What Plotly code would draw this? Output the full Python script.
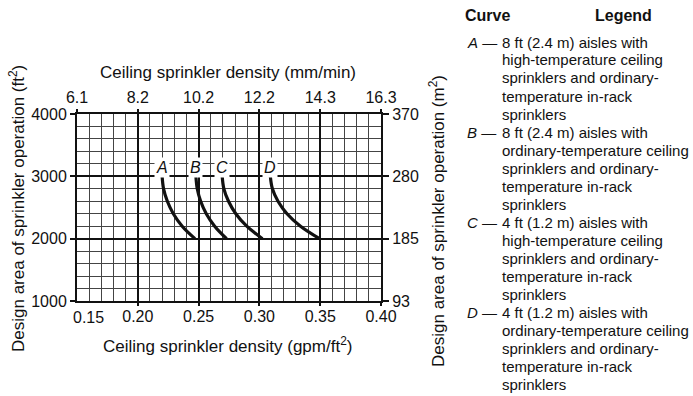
import plotly.graph_objects as go

# Ceiling sprinkler density (gpm/ft2) vs design area (ft2) for curves A-D
area_ft2 = [3000, 2800, 2600, 2400, 2200, 2000]
curve_A = [0.220, 0.2212, 0.2243, 0.2292, 0.2365, 0.247]
curve_B = [0.2478, 0.2489, 0.2517, 0.2563, 0.2632, 0.273]
curve_C = [0.2694, 0.2708, 0.2746, 0.2806, 0.2896, 0.3025]
curve_D = [0.309, 0.3107, 0.3153, 0.3227, 0.3338, 0.3495]
curve_names = ["A", "B", "C", "D"]
label_area = 3140

# Axis ticks
gpm_ticks = [0.15, 0.20, 0.25, 0.30, 0.35, 0.40]
mm_labels = ["6.1", "8.2", "10.2", "12.2", "14.3", "16.3"]
ft2_ticks = [1000, 2000, 3000, 4000]
m2_labels = ["93", "185", "280", "370"]

legend_items = [
    ["8 ft (2.4 m) aisles with", "high-temperature ceiling",
     "sprinklers and ordinary-", "temperature in-rack", "sprinklers"],
    ["8 ft (2.4 m) aisles with", "ordinary-temperature ceiling",
     "sprinklers and ordinary-", "temperature in-rack", "sprinklers"],
    ["4 ft (1.2 m) aisles with", "high-temperature ceiling",
     "sprinklers and ordinary-", "temperature in-rack", "sprinklers"],
    ["4 ft (1.2 m) aisles with", "ordinary-temperature ceiling",
     "sprinklers and ordinary-", "temperature in-rack", "sprinklers"],
]

FONT = "Liberation Sans, Arial, Helvetica, sans-serif"
W, H = 693, 396
PL, PR, PT, PB = 77, 381, 114, 301


def px(x):
    return (x - PL) / (PR - PL)


def py(y):
    return (PB - y) / (PB - PT)


fig = go.Figure()
for name, xs in zip(curve_names, [curve_A, curve_B, curve_C, curve_D]):
    fig.add_trace(go.Scatter(
        x=xs, y=area_ft2, mode="lines", name=name,
        line=dict(color="#111", width=3.2, shape="spline", smoothing=1),
        hoverinfo="skip", showlegend=False))
    fig.add_annotation(
        x=xs[0], y=label_area, xref="x", yref="y", text=f"<i>{name}</i>",
        showarrow=False, bgcolor="white", borderpad=1,
        font=dict(family=FONT, size=16, color="#111"))

# carrier trace for the secondary (mm/min, m2) axes
fig.add_trace(go.Scatter(x=[0.15], y=[1000], xaxis="x2", yaxis="y2",
                         mode="markers", marker=dict(opacity=0),
                         hoverinfo="skip", showlegend=False))

tick_font = dict(family=FONT, size=16, color="#111")
# the first density label is drawn separately, nudged clear of "1000"
bottom_ticks = gpm_ticks[1:]
fig.update_layout(
    width=W, height=H,
    margin=dict(l=PL, r=W - PR, t=PT, b=H - PB),
    paper_bgcolor="white", plot_bgcolor="white",
    font=dict(family=FONT, color="#111"),
    xaxis=dict(
        range=[0.15, 0.40], tickvals=bottom_ticks,
        ticktext=[f"{v:.2f}" for v in bottom_ticks],
        tickfont=tick_font, ticks="outside", ticklen=3, tickwidth=2,
        tickcolor="#111", showgrid=True, gridcolor="#111", gridwidth=2,
        showline=True, linecolor="#111", linewidth=2, mirror=False,
        zeroline=False, fixedrange=True, ticklabelstandoff=-3,
        minor=dict(dtick=0.01, showgrid=True, gridcolor="#444",
                   gridwidth=1, ticks="")),
    yaxis=dict(
        range=[1000, 4000], tickvals=ft2_ticks,
        tickfont=tick_font, ticks="outside", ticklen=5, tickwidth=2,
        tickcolor="#111", showgrid=True, gridcolor="#111", gridwidth=2,
        showline=True, linecolor="#111", linewidth=2,
        zeroline=False, fixedrange=True,
        minor=dict(dtick=200, showgrid=True, gridcolor="#444",
                   gridwidth=1, ticks="")),
    xaxis2=dict(
        overlaying="x", side="top", range=[0.15, 0.40],
        tickvals=gpm_ticks, ticktext=mm_labels, tickfont=tick_font,
        ticks="outside", ticklen=3, tickwidth=2, tickcolor="#111",
        showgrid=False, showline=True, linecolor="#111", linewidth=2,
        zeroline=False, fixedrange=True),
    yaxis2=dict(
        overlaying="y", side="right", range=[1000, 4000],
        tickvals=ft2_ticks, ticktext=m2_labels, tickfont=tick_font,
        ticks="outside", ticklen=6, tickwidth=2, tickcolor="#111",
        showgrid=False, showline=True, linecolor="#111", linewidth=2,
        zeroline=False, fixedrange=True),
)

title_font = dict(family=FONT, size=17, color="#111")


def note(text, x, y, xanchor="center", yanchor="middle", angle=0, font=None):
    fig.add_annotation(text=text, x=px(x), y=py(y), xref="paper",
                       yref="paper", xanchor=xanchor, yanchor=yanchor,
                       textangle=angle, showarrow=False,
                       font=font or title_font)


note(f"{gpm_ticks[0]:.2f}", 88, 317, font=tick_font)
note("Ceiling sprinkler density (mm/min)", 228, 72)
note("Ceiling sprinkler density (gpm/ft<sup>2</sup>)", 227, 345)
note("Design area of sprinkler operation (ft<sup>2</sup>)", 17, 209, angle=-90)
note("Design area of sprinkler operation (m<sup>2</sup>)", 437, 221, angle=-90)

head_font = dict(family=FONT, size=16, color="#111")
note("<b>Curve</b>", 463, 15, xanchor="left", font=head_font)
note("<b>Legend</b>", 593, 15, xanchor="left", font=head_font)

body_font = dict(family=FONT, size=15, color="#111")
line_y = 42
for name, lines in zip(curve_names, legend_items):
    note(f"<i>{name}</i> —", 465, line_y, xanchor="left", font=body_font)
    for text in lines:
        note(text, 500, line_y, xanchor="left", font=body_font)
        line_y += 18

fig.write_html("out.html")
